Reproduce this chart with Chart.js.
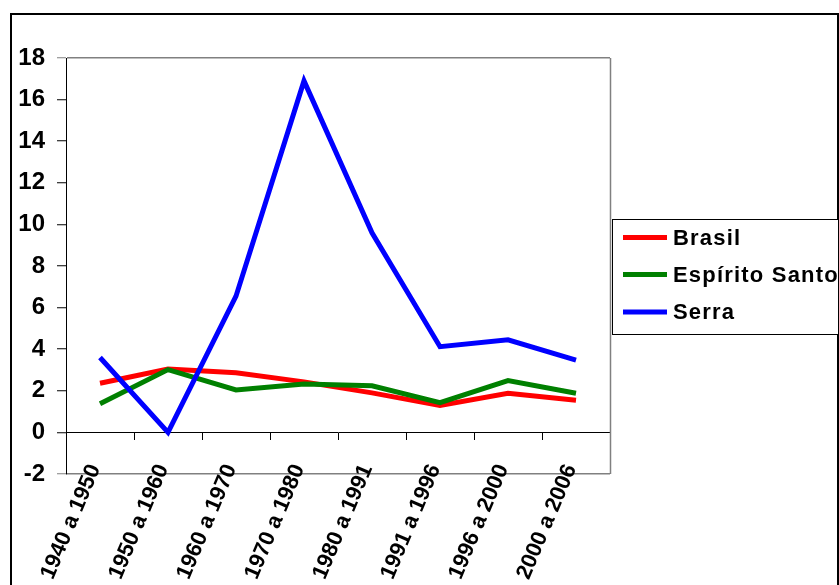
<!DOCTYPE html>
<html>
<head>
<meta charset="utf-8">
<script src="https://cdn.jsdelivr.net/npm/chart.js@4/dist/chart.umd.min.js"></script>
<style>
  html, body { margin: 0; padding: 0; background: #fff; }
  #wrap { width: 839px; height: 585px; }
</style>
</head>
<body>
<div id="wrap"><canvas id="c" width="839" height="585"></canvas></div>
<script>
// Taxa de crescimento populacional (% a.a.)
const periods = ['1940 a 1950', '1950 a 1960', '1960 a 1970', '1970 a 1980',
                 '1980 a 1991', '1991 a 1996', '1996 a 2000', '2000 a 2006'];
const brasil = [2.36, 3.05, 2.87, 2.43, 1.9, 1.3, 1.88, 1.55];
const espiritoSanto = [1.38, 3.02, 2.04, 2.33, 2.24, 1.43, 2.49, 1.88];
const serra = [3.6, 0.0, 6.55, 16.9, 9.6, 4.12, 4.45, 3.47];
const yTicks = [-2, 0, 2, 4, 6, 8, 10, 12, 14, 16, 18];

const FONT = "'Liberation Sans', Arial, sans-serif";

// gray frame on the right of the plot area and the black outer border
const framePlugin = {
  id: 'frame',
  beforeDatasetsDraw(chart) {
    const { ctx, chartArea: a } = chart;
    ctx.save();
    ctx.strokeStyle = '#808080';
    ctx.lineWidth = 1.5;
    ctx.beginPath();
    ctx.moveTo(Math.round(a.right) + 0.5, a.top);
    ctx.lineTo(Math.round(a.right) + 0.5, a.bottom);
    ctx.stroke();
    ctx.restore();
  },
  afterDraw(chart) {
    const ctx = chart.ctx;
    ctx.save();
    ctx.strokeStyle = '#000';
    ctx.lineWidth = 2;
    ctx.strokeRect(11, 14, 827, 600);
    ctx.restore();
  }
};

// boxed legend to the right of the plot
const boxLegend = {
  id: 'boxLegend',
  afterDraw(chart) {
    const ctx = chart.ctx;
    const x0 = 612.5, y0 = 219.5, w = 226, h = 115;
    ctx.save();
    ctx.fillStyle = '#fff';
    ctx.fillRect(x0, y0, w, h);
    ctx.strokeStyle = '#000';
    ctx.lineWidth = 1;
    ctx.strokeRect(x0, y0, w, h);
    const rows = [237.5, 274.5, 312];
    chart.data.datasets.forEach((ds, i) => {
      const y = rows[i];
      ctx.strokeStyle = ds.borderColor;
      ctx.lineWidth = 5;
      ctx.beginPath();
      ctx.moveTo(623, y);
      ctx.lineTo(667, y);
      ctx.stroke();
      ctx.fillStyle = '#000';
      ctx.font = 'bold 22px ' + FONT;
      ctx.letterSpacing = '1.2px';
      ctx.textAlign = 'left';
      ctx.textBaseline = 'middle';
      ctx.fillText(ds.label, 673, y + 1);
    });
    ctx.restore();
  }
};

new Chart(document.getElementById('c'), {
  type: 'line',
  data: {
    labels: periods,
    datasets: [
      { label: 'Brasil', data: brasil, borderColor: '#ff0000', order: 2 },
      { label: 'Espírito Santo', data: espiritoSanto, borderColor: '#008000', order: 1 },
      { label: 'Serra', data: serra, borderColor: '#0000ff', order: 0 }
    ]
  },
  options: {
    responsive: false,
    animation: false,
    devicePixelRatio: 1,
    layout: { padding: { top: 58, right: 229, bottom: 111, left: 0 } },
    elements: {
      line: { borderWidth: 5, tension: 0, fill: false },
      point: { radius: 0, hoverRadius: 0 }
    },
    plugins: {
      legend: { display: false },
      tooltip: { enabled: false },
      title: { display: false }
    },
    scales: {
      x: {
        type: 'category',
        position: { y: 0 },
        offset: true,
        grid: {
          offset: true,
          drawOnChartArea: false,
          drawTicks: true,
          tickLength: 7,
          color: '#000',
          lineWidth: 1
        },
        border: { display: true, color: '#000', width: 1 },
        ticks: {
          color: '#000',
          font: { family: FONT, size: 22, weight: 'bold' },
          minRotation: 67,
          maxRotation: 67,
          padding: 21,
          labelOffset: -5,
          autoSkip: false
        }
      },
      y: {
        position: 'left',
        min: -2,
        max: 18,
        afterFit(scale) { scale.width = 66; },
        afterBuildTicks(scale) { scale.ticks = yTicks.map(v => ({ value: v })); },
        grid: {
          drawOnChartArea: true,
          tickLength: 9,
          color: c => (c.tick && (c.tick.value === 18 || c.tick.value === -2)) ? '#808080' : 'rgba(0,0,0,0)',
          tickColor: c => (c.tick && (c.tick.value === 18 || c.tick.value === -2)) ? '#808080' : '#000',
          lineWidth: 1.5,
          tickWidth: 1
        },
        border: { display: true, color: '#000', width: 1 },
        ticks: {
          color: '#000',
          padding: 12,
          font: { family: FONT, size: 24, weight: 'bold' }
        }
      }
    }
  },
  plugins: [framePlugin, boxLegend]
});
</script>
</body>
</html>
